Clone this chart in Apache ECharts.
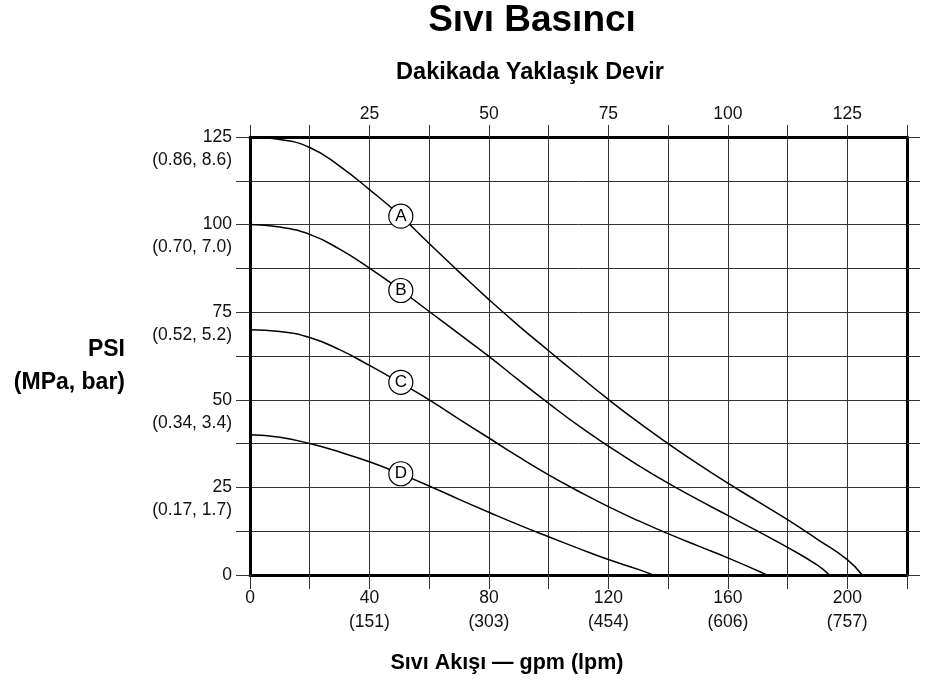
<!DOCTYPE html>
<html><head><meta charset="utf-8">
<script src="https://cdn.jsdelivr.net/npm/echarts@6/dist/echarts.min.js"></script>
<style>html,body{margin:0;padding:0;background:#fff}#c{width:928px;height:689px}</style>
</head><body><div id="c"></div>
<script>
// Data (gpm, psi)
const curveA = [[0,125],[10,124.3],[20,122],[30,116.7],[40,110],[50,102.8],[60,94.6],[70,86.5],[80,78.6],[90,71.1],[100,64],[110,57],[120,50.1],[130,43.6],[140,37.5],[150,31.7],[160,26.2],[170,21],[180,15.8],[190,10.2],[200,4.4],[205,0]];
const curveB = [[0,100],[10,99.3],[20,97.2],[30,93],[40,87.6],[50,81.6],[60,75.2],[70,68.8],[80,62.4],[90,55.6],[100,49],[110,42.6],[120,36.8],[130,31.3],[140,26.2],[150,21.5],[160,17],[170,12.5],[180,7.9],[190,2.8],[194,0]];
const curveC = [[0,70],[10,69.5],[20,67.8],[30,64.3],[40,59.8],[50,55],[60,50],[70,44.5],[80,39.1],[90,33.7],[100,28.6],[110,23.9],[120,19.5],[130,15.5],[140,11.8],[150,8.3],[160,4.9],[170,1.2],[173,0]];
const curveD = [[0,40],[10,39.3],[20,37.5],[30,35.1],[40,32.3],[50,29],[60,25.4],[70,21.6],[80,17.9],[90,14.3],[100,10.9],[110,7.6],[120,4.4],[130,1.6],[135,0]];
const curveLabels = [[50.5,102.4,'A'],[50.5,81.2,'B'],[50.5,55,'C'],[50.5,28.9,'D']];

const gpmTicks = [0,40,80,120,160,200];
const lpmTicks = ['', '(151)', '(303)', '(454)', '(606)', '(757)'];
const psiTicks = [0,25,50,75,100,125];
const psiMetric = ['', '(0.17, 1.7)', '(0.34, 3.4)', '(0.52, 5.2)', '(0.70, 7.0)', '(0.86, 8.6)'];
const rpmTicks = [25,50,75,100,125];

const FONT = '"Liberation Sans", Arial, Helvetica, sans-serif';
const gridColor = '#333';
const FS = 17.5;

const chart = echarts.init(document.getElementById('c'), null, {renderer:'canvas'});
const lineSeries = (name, data) => ({
  name, type:'line', data, xAxisIndex:0, yAxisIndex:0, symbol:'none', smooth:true,
  lineStyle:{color:'#000', width:1.5}, z:3, silent:true
});
chart.setOption({
  animation:false,
  backgroundColor:'#fff',
  textStyle:{fontFamily:FONT},
  grid:{left:250, right:21, top:137, bottom:114},
  xAxis:[{
    type:'value', position:'bottom', min:0, max:220, interval:20,
    axisLine:{show:true, onZero:false, lineStyle:{color:'#000', width:3}},
    axisTick:{show:true, length:14, lineStyle:{color:'#333', width:1}},
    splitLine:{show:true, lineStyle:{color:gridColor, width:1}},
    axisLabel:{
      margin:11, color:'#111', fontSize:FS, lineHeight:24, fontFamily:FONT, showMaxLabel:true,
      formatter:v => { const i = gpmTicks.indexOf(v); if (i < 0) return ''; return lpmTicks[i] ? v + '\n' + lpmTicks[i] : String(v); }
    }
  },{
    type:'value', position:'top', min:0, max:137.5, interval:12.5,
    axisLine:{show:true, onZero:false, lineStyle:{color:'#000', width:3}},
    axisTick:{show:true, length:12, lineStyle:{color:'#333', width:1}},
    splitLine:{show:false},
    axisLabel:{margin:14, color:'#111', fontSize:FS, fontFamily:FONT,
      formatter:v => rpmTicks.indexOf(v) >= 0 ? String(v) : ''}
  }],
  yAxis:[{
    type:'value', position:'left', min:0, max:125, interval:12.5,
    axisLine:{show:true, onZero:false, lineStyle:{color:'#000', width:3}},
    axisTick:{show:true, length:14, lineStyle:{color:'#333', width:1}},
    splitLine:{show:true, lineStyle:{color:gridColor, width:1}},
    axisLabel:{
      margin:18, color:'#111', fontSize:FS, fontFamily:FONT,
      formatter:v => { const i = psiTicks.indexOf(v); if (i < 0) return ''; return psiMetric[i] ? '{e|}\n{a|' + v + '}\n{b|' + psiMetric[i] + '}' : '{a|' + v + '}'; },
      rich:{e:{lineHeight:22, fontSize:FS}, a:{lineHeight:24, fontSize:FS, color:'#111', fontFamily:FONT}, b:{lineHeight:22, fontSize:FS, color:'#111', fontFamily:FONT}}
    }
  },{
    type:'value', position:'right', min:0, max:125, interval:12.5,
    axisLine:{show:true, onZero:false, lineStyle:{color:'#000', width:3}},
    axisTick:{show:true, length:13, lineStyle:{color:'#333', width:1}},
    splitLine:{show:false}, axisLabel:{show:false}
  }],
  series:[
    lineSeries('A', curveA), lineSeries('B', curveB), lineSeries('C', curveC), lineSeries('D', curveD),
    {type:'scatter', data:curveLabels, xAxisIndex:0, yAxisIndex:0, symbol:'circle', symbolSize:24, z:5, silent:true,
     itemStyle:{color:'#fff', borderColor:'#000', borderWidth:1.2, opacity:1},
     label:{show:true, position:'inside', formatter:p => p.value[2], color:'#000', fontSize:17, fontFamily:FONT}}
  ],
  graphic:[
    {type:'text', x:532, y:21, style:{text:'Sıvı Basıncı', font:'bold 37px ' + FONT, fill:'#000', textAlign:'center', textVerticalAlign:'middle'}},
    {type:'text', x:530, y:73, style:{text:'Dakikada Yaklaşık Devir', font:'bold 23.5px ' + FONT, fill:'#000', textAlign:'center', textVerticalAlign:'middle'}},
    {type:'text', x:125, y:350, style:{text:'PSI', font:'bold 23px ' + FONT, fill:'#000', textAlign:'right', textVerticalAlign:'middle'}},
    {type:'text', x:125, y:383, style:{text:'(MPa, bar)', font:'bold 23px ' + FONT, fill:'#000', textAlign:'right', textVerticalAlign:'middle'}},
    {type:'text', x:507, y:663, style:{text:'Sıvı Akışı — gpm (lpm)', font:'bold 21.5px ' + FONT, fill:'#000', textAlign:'center', textVerticalAlign:'middle'}}
  ]
});
</script></body></html>
